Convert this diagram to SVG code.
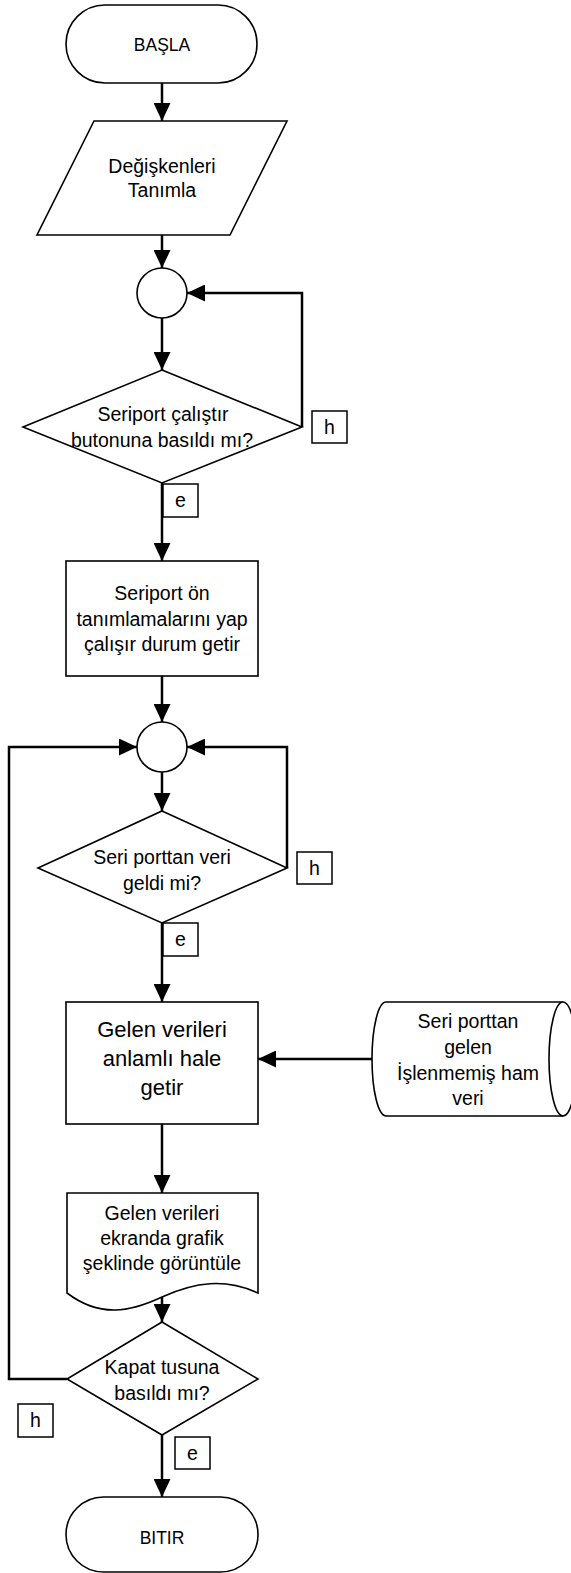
<svg xmlns="http://www.w3.org/2000/svg" width="571" height="1573" viewBox="0 0 571 1573">
  <style>
    .shape { fill: #ffffff; stroke: #000000; stroke-width: 1.6; }
    .tag { fill: #ffffff; stroke: #000000; stroke-width: 1.5; }
    .link { fill: none; stroke: #000000; stroke-width: 2.5; stroke-linejoin: miter; }
    .arrow { marker-end: url(#head); }
    text { font-family: "Liberation Sans", Arial, sans-serif; fill: #000000; text-anchor: middle; font-size: 19.5px; }
    .term { font-size: 17.5px; }
    .big { font-size: 22px; }
  </style>
  <defs>
    <marker id="head" markerUnits="userSpaceOnUse" markerWidth="18" markerHeight="17" viewBox="0 0 18 17" refX="18" refY="8.5" orient="auto">
      <path d="M0,0 L18,8.5 L0,17 Z" fill="#000000"/>
    </marker>
  </defs>

  <!-- connectors -->
  <g id="connectors">
    <path class="link arrow" d="M162,83 V121"/>
    <path class="link arrow" d="M162,235 V268"/>
    <path class="link arrow" d="M162,318 V370"/>
    <path class="link arrow" d="M302,427 V293 H187"/>
    <path class="link arrow" d="M162,483 V561"/>
    <path class="link arrow" d="M162,676 V722"/>
    <path class="link arrow" d="M162,772 V811"/>
    <path class="link arrow" d="M287,868 V747 H187"/>
    <path class="link arrow" d="M162,923 V1002"/>
    <path class="link arrow" d="M372,1059 H258"/>
    <path class="link arrow" d="M162,1124 V1193"/>
    <path class="link arrow" d="M162,1297 V1322"/>
    <path class="link arrow" d="M67,1379 H9 V747 H137"/>
    <path class="link arrow" d="M162,1435 V1497"/>
  </g>

  <!-- start -->
  <g id="start">
    <rect class="shape" x="66" y="5" width="191" height="78" rx="39" ry="39"/>
    <text class="term" x="162" y="51">BAŞLA</text>
  </g>

  <!-- variable definition (input) -->
  <g id="define-vars">
    <polygon class="shape" points="94,121 287,121 230,235 37,235"/>
    <text x="162" y="173">Değişkenleri</text>
    <text x="162" y="197">Tanımla</text>
  </g>

  <!-- connector circle 1 -->
  <g id="junction-1">
    <circle class="shape" cx="162" cy="293" r="25"/>
  </g>

  <!-- decision: start button -->
  <g id="decision-start">
    <polygon class="shape" points="162,370 302,427 162,483 23,427"/>
    <text x="163" y="421">Seriport çalıştır</text>
    <text x="162" y="447">butonuna basıldı mı?</text>
  </g>
  <g id="label-h1">
    <rect class="tag" x="312" y="411" width="35" height="32"/>
    <text x="329.5" y="434">h</text>
  </g>
  <g id="label-e1">
    <rect class="tag" x="163" y="484" width="35" height="33"/>
    <text x="180.5" y="507">e</text>
  </g>

  <!-- serial port setup -->
  <g id="port-setup">
    <rect class="shape" x="66" y="561" width="192" height="115"/>
    <text x="162" y="600">Seriport ön</text>
    <text x="162" y="626">tanımlamalarını yap</text>
    <text x="162" y="651">çalışır durum getir</text>
  </g>

  <!-- connector circle 2 -->
  <g id="junction-2">
    <circle class="shape" cx="162" cy="747" r="25"/>
  </g>

  <!-- decision: data arrived -->
  <g id="decision-data">
    <polygon class="shape" points="162,811 287,868 162,923 38,868"/>
    <text x="162" y="864">Seri porttan veri</text>
    <text x="162" y="890">geldi mi?</text>
  </g>
  <g id="label-h2">
    <rect class="tag" x="297" y="852" width="35" height="32"/>
    <text x="314.5" y="875">h</text>
  </g>
  <g id="label-e2">
    <rect class="tag" x="163" y="923" width="35" height="33"/>
    <text x="180.5" y="946">e</text>
  </g>

  <!-- process incoming data -->
  <g id="parse-data">
    <rect class="shape" x="66" y="1002" width="192" height="122"/>
    <text class="big" x="162" y="1037">Gelen verileri</text>
    <text class="big" x="162" y="1066">anlamlı hale</text>
    <text class="big" x="162" y="1095">getir</text>
  </g>

  <!-- raw serial data storage -->
  <g id="raw-data">
    <path class="shape" d="M386,1002 H563 A14,57 0 0 1 563,1116 H386 A14,57 0 0 1 386,1002 Z"/>
    <path class="shape" fill="none" d="M563,1002 A14,57 0 0 0 563,1116"/>
    <text x="468" y="1028">Seri porttan</text>
    <text x="468" y="1054">gelen</text>
    <text x="468" y="1080">İşlenmemiş ham</text>
    <text x="468" y="1105">veri</text>
  </g>

  <!-- chart display (document) -->
  <g id="show-chart">
    <path class="shape" d="M67,1193 H258 V1293 C225,1278 195,1282 162,1297 C130,1312 100,1318 67,1293 Z"/>
    <text x="162" y="1220">Gelen verileri</text>
    <text x="162" y="1245">ekranda grafik</text>
    <text x="162" y="1270">şeklinde görüntüle</text>
  </g>

  <!-- decision: close button -->
  <g id="decision-close">
    <polygon class="shape" points="162,1322 258,1379 162,1435 67,1379"/>
    <text x="162" y="1374">Kapat tusuna</text>
    <text x="162" y="1400">basıldı mı?</text>
  </g>
  <g id="label-h3">
    <rect class="tag" x="18" y="1404" width="35" height="33"/>
    <text x="35.5" y="1427">h</text>
  </g>
  <g id="label-e3">
    <rect class="tag" x="175" y="1437" width="35" height="32"/>
    <text x="192.5" y="1460">e</text>
  </g>

  <!-- end -->
  <g id="end">
    <rect class="shape" x="66" y="1497" width="192" height="75" rx="37.5" ry="37.5"/>
    <text class="term" x="162" y="1544">BITIR</text>
  </g>
</svg>
